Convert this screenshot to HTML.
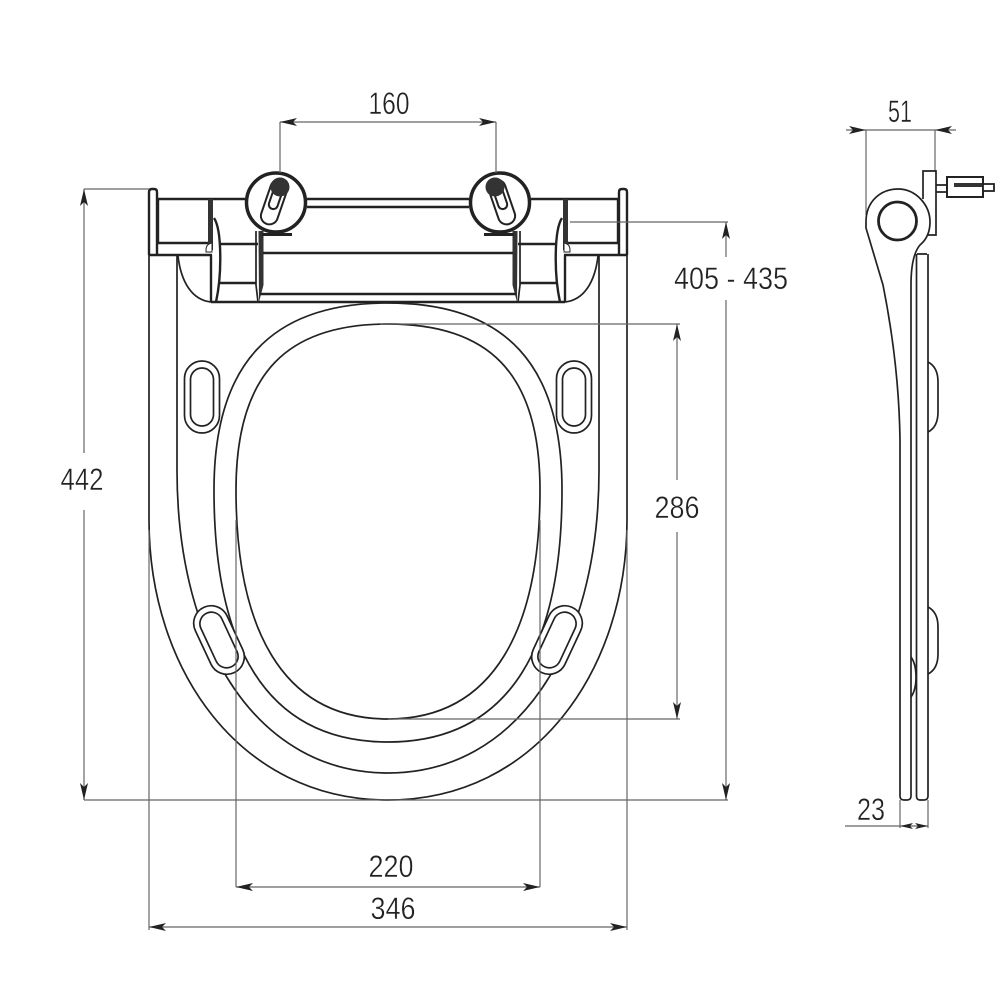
<!DOCTYPE html>
<html><head><meta charset="utf-8"><style>
html,body{margin:0;padding:0;background:#fff}
svg{display:block}
text{font-family:"Liberation Sans",sans-serif;font-size:31.5px;fill:#222;stroke:#fff;stroke-width:.4;text-anchor:middle}
.d{stroke:#666;stroke-width:1.2;fill:none}
.t{stroke:#222;stroke-width:1.7;fill:none}
.b{stroke:#222;stroke-width:2.4;fill:none}
.a{fill:#222;stroke:none}
</style></head><body>
<svg width="1000" height="1000" viewBox="0 0 1000 1000" xmlns="http://www.w3.org/2000/svg">
<!-- seat curves -->
<path class="t" d="M149,255V520C149,670 240,800 388,800C536,800 627,670 627,520V255"/>
<path class="t" d="M177,256V470C177,650 260,773 388,773C516,773 599,650 599,470V256"/>
<path class="t" d="M388,303C270,303 214,365 214,490C214,640 262,742 388,742C514,742 562,640 562,490C562,365 506,303 388,303Z"/>
<path class="t" d="M388,324C290,324 236,370 236,490C236,625 280,719 388,719C496,719 540,625 540,490C540,370 486,324 388,324Z"/>
<!-- holes -->
<g fill="#fff" stroke="#222" stroke-width="1.7">
<rect x="184.500" y="361" width="35" height="72" rx="17.500"/><rect x="190.500" y="368" width="23" height="58" rx="11.500"/>
<rect x="556.500" y="361" width="35" height="72" rx="17.500"/><rect x="562.500" y="368" width="23" height="58" rx="11.500"/>
<g transform="rotate(-25 219 640)"><rect x="201.500" y="604" width="35" height="72" rx="17.500"/><rect x="207.500" y="610.500" width="23" height="59" rx="11.500"/></g>
<g transform="rotate(25 557 640)"><rect x="539.500" y="604" width="35" height="72" rx="17.500"/><rect x="545.500" y="610.500" width="23" height="59" rx="11.500"/></g>
</g>
<!-- hinge block -->
<g id="hl">
<path class="b" d="M149,255V192Q149,189 152,189H154Q157,189 157,192V255"/>
<path class="b" d="M157,199H245M158,199V243H208M149,255H212"/>
<path d="M208,199H213V250H208Z" fill="#333"/>
<path d="M206,250Q206,244 212,243V252H206Z" fill="#fff" stroke="#222"/>
<path class="b" d="M211,255V302"/>
<path class="t" d="M178,256C181,282 192,300 211,302"/>
<path class="b" d="M214,218C222,230 222,275 216,302"/>
<path class="b" d="M219,244H258M220,283H256"/>
<path class="t" d="M256,231V285L258,302"/>
<path d="M258.500,231H263.500V285L259,302Z" fill="#333"/>
</g>
<use href="#hl" transform="matrix(-1 0 0 1 776 0)"/>
<path class="b" d="M211,302H565M263,253H513M260,294H516"/>
<path class="b" d="M307,199H469M307,207H469"/>
<path d="M262,233H292V236H262ZM484,233H514V236H484Z" fill="#222"/>
<!-- hinge circles -->
<g fill="#fff" stroke="#222">
<circle cx="276" cy="202.500" r="29.500" stroke-width="3.500"/>
<circle cx="500" cy="202.500" r="29.500" stroke-width="3.500"/>
<g stroke-width="2">
<rect x="-8.500" y="-8" width="17" height="46" rx="8.500" transform="translate(279,188) rotate(19)"/>
<rect x="-8.500" y="-8" width="17" height="46" rx="8.500" transform="translate(497,188) rotate(-19)"/>
<rect x="-4.500" y="-2" width="9" height="24" rx="4.500" transform="translate(279,188) rotate(19)"/>
<rect x="-4.500" y="-2" width="9" height="24" rx="4.500" transform="translate(497,188) rotate(-19)"/>
</g>
</g>
<circle cx="280" cy="187" r="9.500" fill="#333"/>
<circle cx="495" cy="187" r="9.500" fill="#333"/>
<!-- main dimensions -->
<path class="d" d="M280,122H496M280,122V173M496,122V173"/>
<path class="d" d="M84,189H149M84,189V453M84,510V800M84,800H728"/>
<path class="d" d="M570,222H728M726,222V257M726,300V800"/>
<path class="d" d="M380,324H680M388,719H680M677,324V480M677,532V719"/>
<path class="d" d="M236,520V887M540,520V887M236,887H540"/>
<path class="d" d="M149,530V930M627,530V930M149,927H627"/>
<g class="a">
<path d="M280,122l17,-4l-4,4l4,4Z"/><path d="M496,122l-17,-4l4,4l-4,4Z"/>
<path d="M84,189l-4,17l4,-4l4,4Z"/><path d="M84,800l-4,-17l4,4l4,-4Z"/>
<path d="M726,222l-4,17l4,-4l4,4Z"/><path d="M726,800l-4,-17l4,4l4,-4Z"/>
<path d="M677,324l-4,17l4,-4l4,4Z"/><path d="M677,719l-4,-17l4,4l4,-4Z"/>
<path d="M236,887l17,-4l-4,4l4,4Z"/><path d="M540,887l-17,-4l4,4l-4,4Z"/>
<path d="M149,927l17,-4l-4,4l4,4Z"/><path d="M627,927l-17,-4l4,4l-4,4Z"/>
</g>
<text x="389" y="114" textLength="41" lengthAdjust="spacingAndGlyphs">160</text>
<text x="82" y="490" textLength="43" lengthAdjust="spacingAndGlyphs">442</text>
<text x="677" y="518" textLength="45" lengthAdjust="spacingAndGlyphs">286</text>
<text x="731" y="289" textLength="114" lengthAdjust="spacingAndGlyphs">405 - 435</text>
<text x="391" y="877" textLength="45" lengthAdjust="spacingAndGlyphs">220</text>
<text x="393" y="919" textLength="45" lengthAdjust="spacingAndGlyphs">346</text>
<text x="900" y="122" textLength="24" lengthAdjust="spacingAndGlyphs">51</text>
<text x="871" y="820" textLength="28" lengthAdjust="spacingAndGlyphs">23</text>
<!-- side view -->
<path class="d" d="M846,130H956M866,130V215M935,130V172"/>
<g class="a"><path d="M866,130l-17,-4l4,4l-4,4Z"/><path d="M935,130l17,-4l-4,4l4,4Z"/></g>
<path class="t" d="M866,222C866,200 882,189 898,189C916,189 930,205 930,222C930,232 926,240 920,245C914,252 911,265 911,285V796Q911,800 907,800H904Q900,800 900,796V440C899,370 888,310 883,285L866,228Z" fill="#fff"/>
<circle cx="897.500" cy="221" r="19" fill="#fff" stroke="#222" stroke-width="2.800"/>
<path class="t" d="M923,199V171H936V235H927"/>
<path class="t" d="M936,185H947M936,192H947"/>
<rect x="947" y="177" width="36" height="20" fill="#fff" stroke="#222" stroke-width="2"/>
<path d="M954,183H983V187H954Z" fill="#333"/>
<rect x="983" y="184" width="11" height="7" fill="#fff" stroke="#222" stroke-width="1.800"/>
<path class="t" d="M917,254H927M916.500,254V796Q916.500,800 920,800H924Q928,800 928,796V254"/>
<path class="t" d="M928,362Q938,367 938,382V412Q938,427 928,432"/>
<path class="t" d="M928,607Q938,612 938,627V654Q938,669 928,674"/>
<path class="t" d="M911,657Q916,664 916,677Q916,690 911,697"/>
<path class="d" d="M900,800V828M928,800V828M845,826H928"/>
<g class="a"><path d="M900,826l13,-3l-3,3l3,3Z"/><path d="M928,826l-13,-3l3,3l-3,3Z"/></g>
</svg>
</body></html>
